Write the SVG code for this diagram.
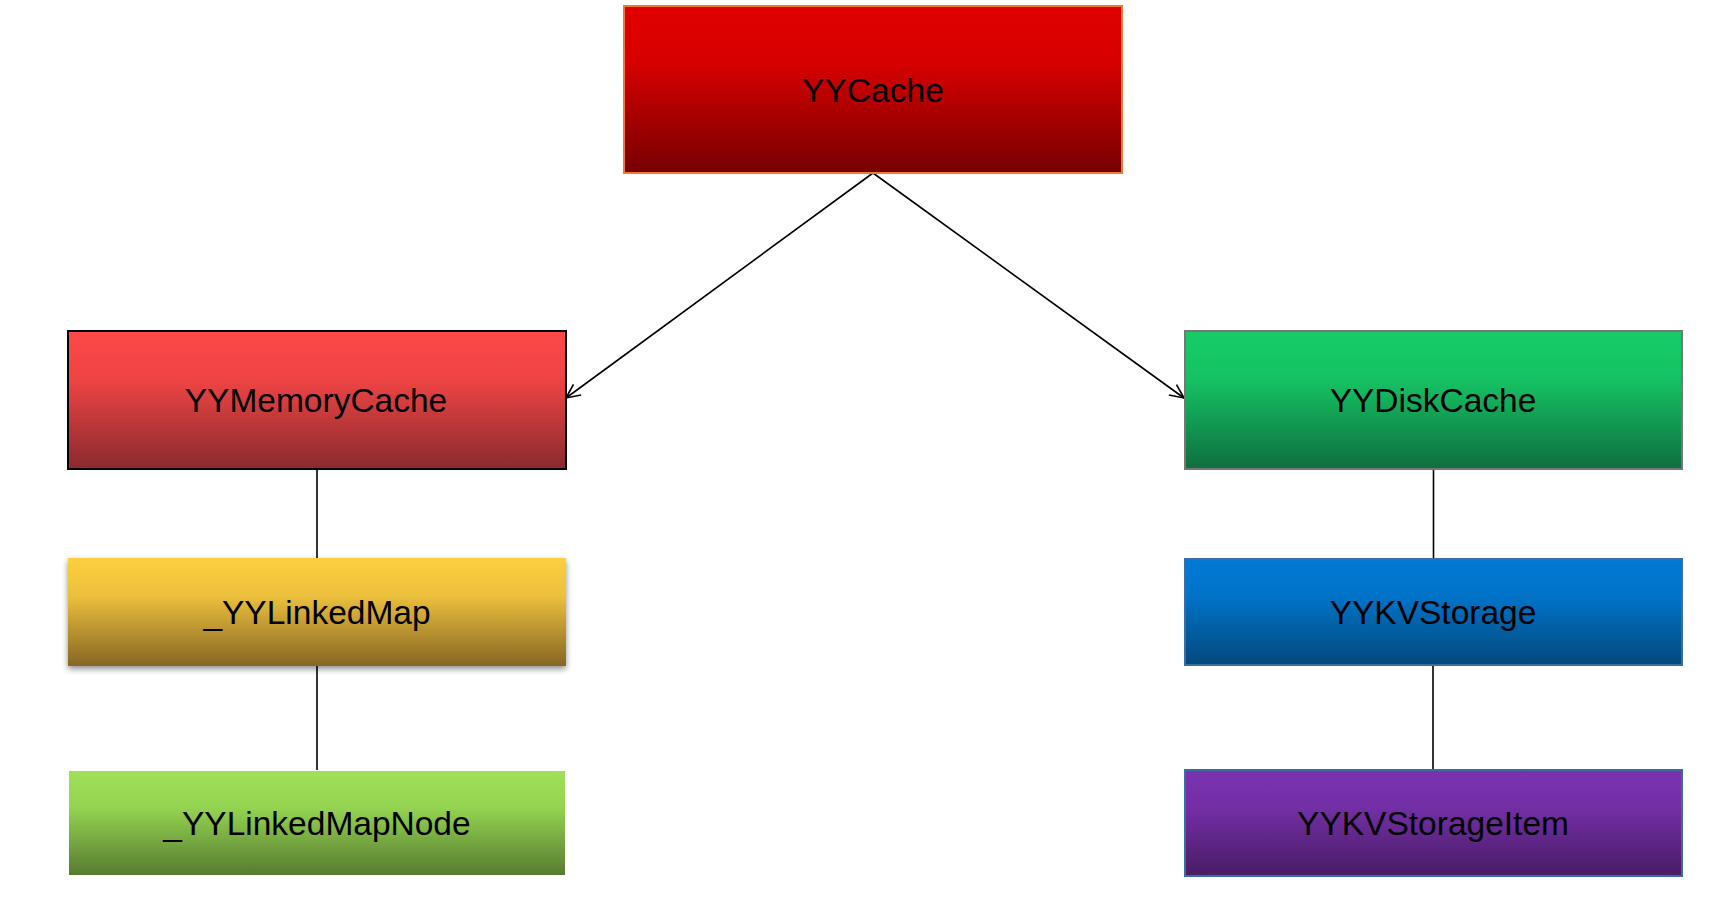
<svg xmlns="http://www.w3.org/2000/svg" width="1726" height="902" viewBox="0 0 1726 902">
<style>
  .lbl { font-family: "Liberation Sans", Arial, Helvetica, sans-serif; font-size: 33.5px; fill: #000; text-anchor: middle; }
  .conn { stroke: #000; stroke-width: 1.6; fill: none; }
</style>
<defs>
  <linearGradient id="gCache" x1="0" y1="0" x2="0" y2="1">
    <stop offset="0" stop-color="#e20000"/><stop offset="0.35" stop-color="#d60000"/><stop offset="1" stop-color="#760000"/>
  </linearGradient>
  <linearGradient id="gMem" x1="0" y1="0" x2="0" y2="1">
    <stop offset="0" stop-color="#fd4848"/><stop offset="0.35" stop-color="#ee4444"/><stop offset="1" stop-color="#8a2a2e"/>
  </linearGradient>
  <linearGradient id="gDisk" x1="0" y1="0" x2="0" y2="1">
    <stop offset="0" stop-color="#16cc67"/><stop offset="0.35" stop-color="#15c263"/><stop offset="1" stop-color="#0f6e3e"/>
  </linearGradient>
  <linearGradient id="gMap" x1="0" y1="0" x2="0" y2="1">
    <stop offset="0" stop-color="#fdcf40"/><stop offset="0.35" stop-color="#ecc03c"/><stop offset="1" stop-color="#866624"/>
  </linearGradient>
  <linearGradient id="gNode" x1="0" y1="0" x2="0" y2="1">
    <stop offset="0" stop-color="#9fe156"/><stop offset="0.35" stop-color="#94d451"/><stop offset="1" stop-color="#577b30"/>
  </linearGradient>
  <linearGradient id="gKV" x1="0" y1="0" x2="0" y2="1">
    <stop offset="0" stop-color="#007ad6"/><stop offset="0.35" stop-color="#0073c8"/><stop offset="1" stop-color="#03497c"/>
  </linearGradient>
  <linearGradient id="gItem" x1="0" y1="0" x2="0" y2="1">
    <stop offset="0" stop-color="#7a33b0"/><stop offset="0.35" stop-color="#732fa6"/><stop offset="1" stop-color="#481c64"/>
  </linearGradient>
  <filter id="shadow" x="-5%" y="-10%" width="110%" height="130%">
    <feGaussianBlur in="SourceAlpha" stdDeviation="3"/>
    <feOffset dx="0" dy="3" result="b"/>
    <feComponentTransfer><feFuncA type="linear" slope="0.45"/></feComponentTransfer>
    <feMerge><feMergeNode/><feMergeNode in="SourceGraphic"/></feMerge>
  </filter>
  <marker id="arrow" viewBox="0 0 16 16" refX="15" refY="8" markerWidth="16" markerHeight="16" markerUnits="userSpaceOnUse" orient="auto">
    <path d="M1,1.5 L15,8 L1,14.5" fill="none" stroke="#000" stroke-width="1.6"/>
  </marker>
</defs>

<g id="connectors">
  <line class="conn" x1="873" y1="173" x2="566" y2="398" marker-end="url(#arrow)"/>
  <line class="conn" x1="873" y1="173" x2="1184" y2="398" marker-end="url(#arrow)"/>
  <line class="conn" x1="317" y1="469" x2="317" y2="558"/>
  <line class="conn" x1="317" y1="666" x2="317" y2="770"/>
  <line class="conn" x1="1433.5" y1="469" x2="1433.5" y2="559"/>
  <line class="conn" x1="1433" y1="665" x2="1433" y2="770"/>
</g>

<g id="YYCache">
  <rect x="624" y="6" width="498" height="167" fill="url(#gCache)" stroke="#ed7a35" stroke-width="2"/>
  <text class="lbl" x="873" y="102">YYCache</text>
</g>

<g id="YYMemoryCache">
  <rect x="68" y="331" width="498" height="138" fill="url(#gMem)" stroke="#000" stroke-width="2"/>
  <text class="lbl" x="316" y="412">YYMemoryCache</text>
</g>

<g id="YYDiskCache">
  <rect x="1185" y="331" width="497" height="138" fill="url(#gDisk)" stroke="#777" stroke-width="2"/>
  <text class="lbl" x="1433" y="412">YYDiskCache</text>
</g>

<g id="_YYLinkedMap">
  <rect x="68" y="558" width="498" height="108" fill="url(#gMap)" filter="url(#shadow)"/>
  <text class="lbl" x="317" y="624">_YYLinkedMap</text>
</g>

<g id="_YYLinkedMapNode">
  <rect x="69" y="771" width="496" height="104" fill="url(#gNode)"/>
  <text class="lbl" x="317" y="835">_YYLinkedMapNode</text>
</g>

<g id="YYKVStorage">
  <rect x="1185" y="559" width="497" height="106" fill="url(#gKV)" stroke="#3d6c9e" stroke-width="2"/>
  <text class="lbl" x="1433" y="624">YYKVStorage</text>
</g>

<g id="YYKVStorageItem">
  <rect x="1185" y="770" width="497" height="106" fill="url(#gItem)" stroke="#3d6c9e" stroke-width="2"/>
  <text class="lbl" x="1433" y="835">YYKVStorageItem</text>
</g>
</svg>
